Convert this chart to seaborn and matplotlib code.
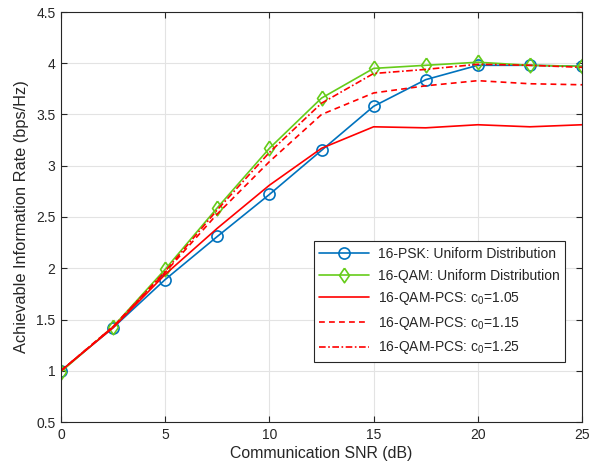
import matplotlib
matplotlib.use("Agg")
import matplotlib.pyplot as plt
import seaborn as sns
import pandas as pd

snr = [0, 2.5, 5, 7.5, 10, 12.5, 15, 17.5, 20, 22.5, 25]
psk_uniform = [1.00, 1.42, 1.89, 2.31, 2.72, 3.15, 3.58, 3.84, 3.98, 3.98, 3.97]
qam_uniform = [0.99, 1.43, 1.99, 2.59, 3.17, 3.66, 3.95, 3.98, 4.01, 3.98, 3.97]
pcs_105 = [1.00, 1.42, 1.94, 2.39, 2.81, 3.17, 3.38, 3.37, 3.40, 3.38, 3.40]
pcs_115 = [1.00, 1.43, 1.96, 2.53, 3.04, 3.50, 3.71, 3.78, 3.83, 3.80, 3.79]
pcs_125 = [1.00, 1.43, 1.97, 2.57, 3.13, 3.61, 3.90, 3.94, 3.99, 3.98, 3.96]

labels = ["16-PSK: Uniform Distribution",
          "16-QAM: Uniform Distribution",
          r"16-QAM-PCS: c$_0$=1.05",
          r"16-QAM-PCS: c$_0$=1.15",
          r"16-QAM-PCS: c$_0$=1.25"]
xticks = [0, 5, 10, 15, 20, 25]
yticks = [0.5, 1, 1.5, 2, 2.5, 3, 3.5, 4, 4.5]

sns.set_style("whitegrid")
plt.rcParams['font.family'] = ['Liberation Sans', 'DejaVu Sans']
plt.rcParams['mathtext.fontset'] = 'custom'
plt.rcParams['mathtext.rm'] = 'Liberation Sans'
plt.rcParams['mathtext.it'] = 'Liberation Sans'

fig = plt.figure(figsize=(5.9, 4.73), dpi=100)
ax = fig.add_axes([61/590, 51/473, 521/590, 410/473])

blue = '#0072BD'
green = '#66CC1A'
red = '#FF0000'

diamond = [(0, 1), (0.68, 0), (0, -1), (-0.68, 0), (0, 1)]

series = [
    (psk_uniform, dict(color=blue, marker='o', linestyle='-', markersize=8,
                       markerfacecolor='none', markeredgecolor=blue,
                       markeredgewidth=1.2)),
    (qam_uniform, dict(color=green, marker=diamond, linestyle='-', markersize=10.5,
                       markerfacecolor='none', markeredgecolor=green,
                       markeredgewidth=1.2)),
    (pcs_105, dict(color=red, linestyle='-')),
    (pcs_115, dict(color=red, linestyle=(0, (3.5, 2.5)))),
    (pcs_125, dict(color=red, linestyle=(0, (4, 1.5, 1, 1.5)))),
]

for (vals, style), lab in zip(series, labels):
    df = pd.DataFrame({"snr": snr, "rate": vals})
    sns.lineplot(data=df, x="snr", y="rate", ax=ax, label=lab, linewidth=1.2,
                 **style)

ax.set_xlim(0, 25)
ax.set_ylim(0.5, 4.5)
ax.set_xticks(xticks)
ax.set_xticklabels([str(t) for t in xticks])
ax.set_yticks(yticks)
ax.set_yticklabels([f"{t:g}" for t in yticks])
ax.grid(True, color='#e3e3e3', linewidth=0.8)
for s in ax.spines.values():
    s.set_color('#262626')
    s.set_linewidth(0.8)
ax.tick_params(direction='in', length=4, width=0.8, colors='#262626',
               labelsize=10, top=True, right=True, bottom=True, left=True,
               labeltop=False, labelright=False, pad=4)
ax.set_xlabel("Communication SNR (dB)", fontsize=11.4, color='#262626', labelpad=3)
ax.set_ylabel("Achievable Information Rate (bps/Hz)", fontsize=11.8, color='#262626', labelpad=5)

leg = ax.legend(loc='lower right', bbox_to_anchor=(565/590, 111/473),
                bbox_transform=fig.transFigure, borderaxespad=0,
                fontsize=10, frameon=True, fancybox=False, handlelength=3.6,
                labelspacing=0.55, borderpad=0.4, handletextpad=0.6)
leg.get_frame().set_edgecolor('#262626')
leg.get_frame().set_linewidth(0.8)
leg.get_frame().set_alpha(1)

fig.savefig("out.png", dpi=100)
